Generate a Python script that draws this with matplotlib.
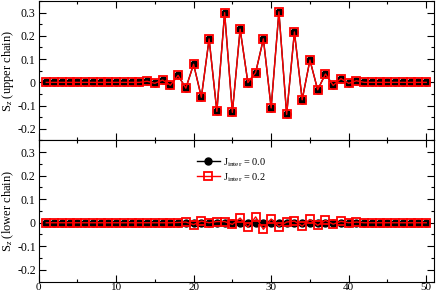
import matplotlib
matplotlib.use("Agg")
import matplotlib.pyplot as plt
from matplotlib.ticker import MultipleLocator
import numpy as np

plt.rcParams['font.family'] = ['Liberation Serif', 'DejaVu Serif']
plt.rcParams['mathtext.fontset'] = 'custom'
plt.rcParams['mathtext.rm'] = 'Liberation Serif'
plt.rcParams['mathtext.it'] = 'Liberation Serif:italic'

sites = list(range(1, 51))

upper_j00 = [0, 0, 0, 0, 0, 0, 0, 0, 0, 0,
             0, 0, 0, 0.005, -0.004, 0.010, -0.012, 0.030, -0.025, 0.078,
             -0.064, 0.187, -0.125, 0.300, -0.129, 0.229, -0.001, 0.042, 0.187, -0.110,
             0.304, -0.138, 0.217, -0.075, 0.096, -0.032, 0.036, -0.013, 0.016, -0.004,
             0.007, 0, 0, 0, 0, 0, 0, 0, 0, 0]
upper_j02 = [0, 0, 0, 0, 0, 0, 0, 0, 0, 0,
             0, 0, 0, 0.005, -0.004, 0.010, -0.012, 0.030, -0.025, 0.078,
             -0.064, 0.187, -0.125, 0.300, -0.129, 0.229, -0.001, 0.042, 0.187, -0.110,
             0.304, -0.138, 0.217, -0.075, 0.096, -0.032, 0.036, -0.013, 0.016, -0.004,
             0.007, 0, 0, 0, 0, 0, 0, 0, 0, 0]
lower_j00 = [0] * 50
lower_j02 = [0, 0, 0, 0, 0, 0, 0, 0, 0, 0,
             0, 0, 0, 0, 0, 0, 0, 0.001, 0.003, -0.008,
             0.007, 0, 0.005, 0.005, -0.007, 0.020, -0.019, 0.025, -0.028, 0.016,
             -0.016, 0.003, 0.007, -0.014, 0.014, -0.011, 0.010, -0.006, 0.006, 0,
             0.003, 0, 0, 0, 0, 0, 0, 0, 0, 0]

labels = ["J$_{\\rm inter}$ = 0.0", "J$_{\\rm inter}$ = 0.2"]

fig = plt.figure(figsize=(4.36, 2.93), dpi=100)
ax1 = fig.add_axes([38.5/436, 1 - 140.5/293, (434-38.5)/436, 139.5/293])
ax2 = fig.add_axes([38.5/436, 1 - 281.5/293, (434-38.5)/436, 141/293])

for ax, d0, d2, name in [(ax1, upper_j00, upper_j02, "upper chain"),
                         (ax2, lower_j00, lower_j02, "lower chain")]:
    ax.plot(sites, d0, color='black', lw=1.0, marker='o', ms=5.0,
            mfc='black', mec='black', label=labels[0], zorder=2)
    ax.plot(sites, d2, color='red', lw=1.0, marker='s', ms=6.0,
            mfc='none', mec='red', mew=1.3, label=labels[1], zorder=3)
    ax.set_xlim(0, 51)
    ax.set_ylim(-0.25, 0.35)
    ax.xaxis.set_major_locator(MultipleLocator(10))
    ax.xaxis.set_minor_locator(MultipleLocator(5))
    ax.yaxis.set_major_locator(MultipleLocator(0.1))
    ax.yaxis.set_minor_locator(MultipleLocator(0.05))
    ax.tick_params(which='both', direction='in', top=True, right=True,
                   labelsize=8.5, pad=2)
    ax.tick_params(axis='x', labelsize=8, pad=1)
    ax.tick_params(which='major', length=5, width=0.8)
    ax.tick_params(which='minor', length=2.5, width=0.8)
    ax.set_yticks([-0.2, -0.1, 0, 0.1, 0.2, 0.3])
    ax.set_yticklabels(["-0.2", "-0.1", "0", "0.1", "0.2", "0.3"])
    ax.set_ylabel("S$_z$ (%s)" % name, fontsize=9)
    ax.yaxis.set_label_coords(-0.057, 0.5)
    for s in ax.spines.values():
        s.set_linewidth(0.8)

ax1.tick_params(labelbottom=False)
ax2.set_xticks([0, 10, 20, 30, 40, 50])
ax2.set_xticklabels(["0", "10", "20", "30", "40", "50"])

ax2.legend(loc='upper left', bbox_to_anchor=(0.40, 0.89), frameon=False,
           fontsize=7.5, handlelength=2.2, handletextpad=0.3, labelspacing=0.25,
           borderaxespad=0, borderpad=0)

fig.savefig("out.png", dpi=100)
